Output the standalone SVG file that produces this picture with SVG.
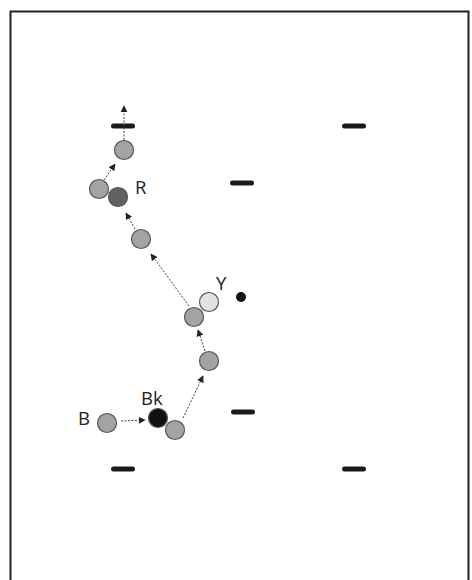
<svg xmlns="http://www.w3.org/2000/svg" width="472" height="580" viewBox="0 0 472 580">
<style>
.bar{fill:#1a1a1a}
.c{stroke:#555;stroke-width:1.2}
.g{fill:#a3a3a3}
.lbl{font-family:"Open Sans","Liberation Sans",sans-serif;font-size:18.5px;fill:#222}
.ln{stroke:#444;stroke-width:1;stroke-dasharray:2 1.5;fill:none;marker-end:url(#ah)}
</style>
<defs>
<marker id="ah" viewBox="0 0 10 10" refX="9" refY="5" markerWidth="7" markerHeight="7" markerUnits="userSpaceOnUse" orient="auto">
<path d="M0,0 L10,5 L0,10 z" fill="#222"/>
</marker>
</defs>
<rect x="0" y="0" width="472" height="580" fill="#fff"/>
<rect x="10.5" y="11.5" width="458" height="570" fill="#fff" stroke="#222" stroke-width="2"/>
<g id="bars">
<rect class="bar" x="111" y="123.5" width="24" height="5" rx="2.5"/>
<rect class="bar" x="342" y="123.5" width="24" height="5" rx="2.5"/>
<rect class="bar" x="230" y="180.5" width="24" height="5" rx="2.5"/>
<rect class="bar" x="231" y="409.5" width="24" height="5" rx="2.5"/>
<rect class="bar" x="111" y="466.5" width="24" height="5" rx="2.5"/>
<rect class="bar" x="342" y="466.5" width="24" height="5" rx="2.5"/>
</g>
<g id="connectors">
<line class="ln" x1="124" y1="140" x2="124" y2="106"/>
<line class="ln" x1="104" y1="180" x2="115" y2="164"/>
<line class="ln" x1="135" y1="229" x2="126" y2="213"/>
<line class="ln" x1="189" y1="306" x2="151" y2="254"/>
<line class="ln" x1="205" y1="351" x2="198" y2="330"/>
<line class="ln" x1="183" y1="418" x2="203" y2="376"/>
<line class="ln" x1="121" y1="421" x2="145" y2="420"/>
</g>
<g id="n-top"><circle class="c g" cx="124" cy="150" r="9.5"/></g>
<g id="n-r1"><circle class="c g" cx="99" cy="189" r="9.5"/></g>
<g id="n-R"><circle class="c" fill="#626262" cx="118" cy="197" r="9.5"/><text class="lbl" x="135" y="194">R</text></g>
<g id="n-Y"><circle class="c" fill="#e2e2e2" cx="209" cy="302" r="9.5"/><text class="lbl" x="216" y="290">Y</text></g>
<g id="n-mid"><circle class="c g" cx="141" cy="239" r="9.5"/></g>
<g id="n-dot"><circle fill="#111" cx="241" cy="297" r="5"/></g>
<g id="n-y2"><circle class="c g" cx="194" cy="317" r="9.5"/></g>
<g id="n-s"><circle class="c g" cx="209" cy="361" r="9.5"/></g>
<g id="n-B"><circle class="c g" cx="107" cy="423" r="9.5"/><text class="lbl" x="78" y="425">B</text></g>
<g id="n-Bk"><circle class="c" fill="#111" cx="158" cy="418" r="9.5"/><text class="lbl" x="141" y="405">Bk</text></g>
<g id="n-bk2"><circle class="c g" cx="175" cy="430" r="9.5"/></g>
</svg>
